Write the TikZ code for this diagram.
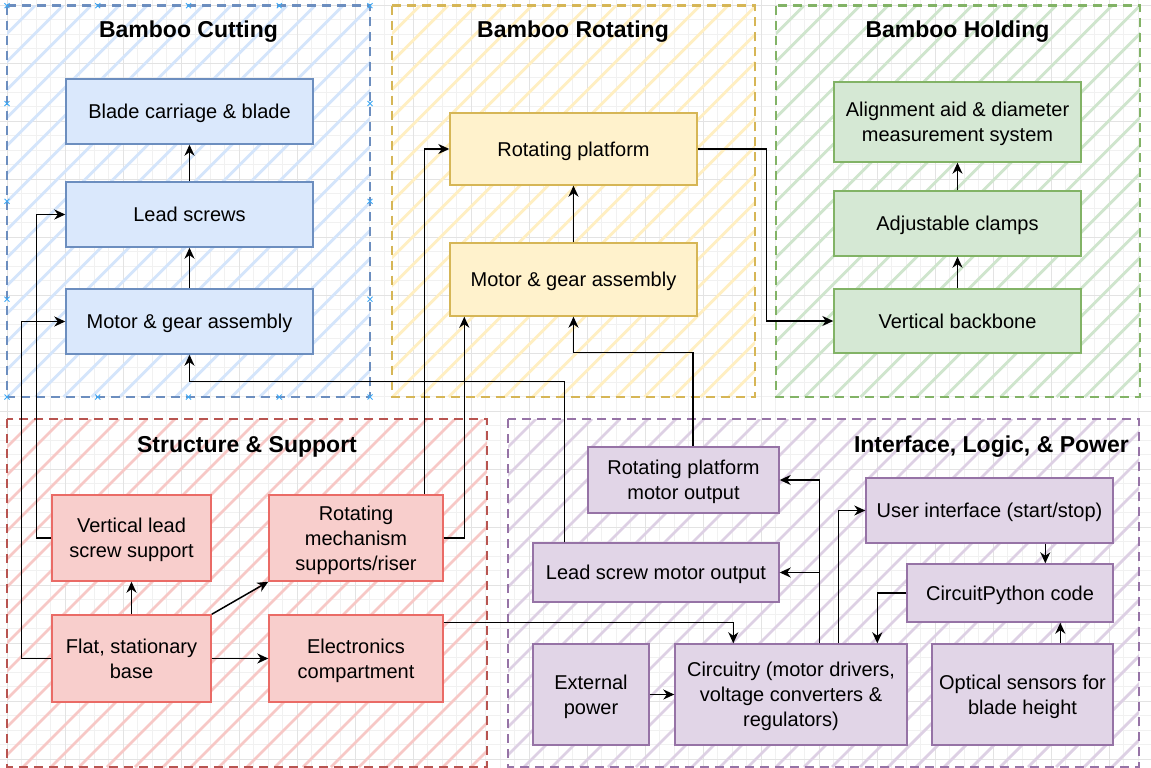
\documentclass[tikz,border=0pt]{standalone}
\usepackage{fontspec}
\setmainfont{Liberation Sans}
\usetikzlibrary{arrows.meta}

\definecolor{bfill}{HTML}{DAE8FC}\definecolor{bline}{HTML}{6C8EBF}
\definecolor{yfill}{HTML}{FFF2CC}\definecolor{yline}{HTML}{D6B656}
\definecolor{gfill}{HTML}{D5E8D4}\definecolor{gline}{HTML}{82B366}
\definecolor{rfill}{HTML}{F8CECC}\definecolor{rline}{HTML}{B85450}\definecolor{rbox}{HTML}{EA6B66}
\definecolor{pfill}{HTML}{E1D5E7}\definecolor{pline}{HTML}{9673A6}
\definecolor{bhatch}{HTML}{D4E5FB}\definecolor{yhatch}{HTML}{FFEFC2}
\definecolor{ghatch}{HTML}{CFE5CD}\definecolor{rhatch}{HTML}{F7C8C6}
\definecolor{phatch}{HTML}{DDD0E4}
\definecolor{gridminor}{HTML}{F1F1F1}\definecolor{gridmajor}{HTML}{E3E3E3}
\definecolor{handle}{HTML}{3DA8F5}

\newcommand\hatchbox[5]{%
  \begin{scope}
    \clip (#1,#2) rectangle (#3,#4);
    \pgfmathsetmacro\hcs{#1+#2}
    \pgfmathsetmacro\hcn{#1+#2+28}
    \pgfmathsetmacro\hce{#3+#4}
    \foreach \c in {\hcs,\hcn,...,\hce}
      \draw[#5, line width=2.8pt] (\c-#2,#2) -- (\c-#4,#4);
  \end{scope}}

\newcommand\lowr[1]{\raisebox{-2.2pt}[\height][\depth]{\begin{tabular}{@{}c@{}}#1\end{tabular}}}

\begin{document}
\begin{tikzpicture}[x=1pt,y=-1pt,
  box/.style={draw, rectangle, inner sep=0pt, line width=1.4pt,
    font=\fontsize{20}{25}\selectfont, align=center},
  bbox/.style={box, fill=bfill, draw=bline},
  ybox/.style={box, fill=yfill, draw=yline},
  gbox/.style={box, fill=gfill, draw=gline},
  rbx/.style={box, fill=rfill, draw=rbox},
  pbox/.style={box, fill=pfill, draw=pline},
  arr/.style={draw=black, line width=1.5pt, -{Stealth[length=11pt,width=10pt,inset=3.5pt]}},
  grp/.style={line width=2.7pt, dash pattern=on 9pt off 6pt},
  ttl/.style={font=\fontsize{23}{28}\selectfont\bfseries, inner sep=0pt},
  hmark/.style={draw=handle, line width=0.8pt}
]
\useasboundingbox (0,0) rectangle (1151,768);
\fill[white] (0,0) rectangle (1151,768);

% grid
\foreach \x in {-7.2,7.3,...,1160} \draw[gridminor, line width=0.9pt] (\x,0) -- (\x,768);
\foreach \y in {-9.2,5.3,...,775} \draw[gridminor, line width=0.9pt] (0,\y) -- (1151,\y);
\foreach \x in {7.3,65.3,...,1160} \draw[gridmajor, line width=0.9pt] (\x,0) -- (\x,768);
\foreach \y in {5.3,63.3,...,775} \draw[gridmajor, line width=0.9pt] (0,\y) -- (1151,\y);

% hatching
\hatchbox{7}{5.7}{370}{397}{bhatch}
\hatchbox{392}{5.7}{755}{397}{yhatch}
\hatchbox{776}{5.7}{1140}{397}{ghatch}
\hatchbox{7}{419}{487}{767}{rhatch}
\hatchbox{508}{419}{1139}{767}{phatch}

% group borders
\draw[grp, bline] (7,5.7) rectangle (370,397);
\draw[grp, yline] (392,5.7) rectangle (755,397);
\draw[grp, gline] (776,5.7) rectangle (1140,397);
\draw[grp, rline] (7,419) rectangle (487,767);
\draw[grp, pline] (508,419) rectangle (1139,767);

% selection handles on the cutting group
\foreach \x in {7,97.75,188.5,279.25,370} {
  \foreach \y in {5.7,397} {
    \draw[hmark] (\x-2.5,\y-2.5) -- (\x+2.5,\y+2.5) (\x-2.5,\y+2.5) -- (\x+2.5,\y-2.5);
  }
}
\foreach \y in {103.5,201.3,299.2} {
  \foreach \x in {7,370} {
    \draw[hmark] (\x-2.5,\y-2.5) -- (\x+2.5,\y+2.5) (\x-2.5,\y+2.5) -- (\x+2.5,\y-2.5);
  }
}

% titles
\node[ttl, anchor=base] (t1) at (188.5,38) {Bamboo Cutting};
\node[ttl, anchor=base] (t2) at (573,38) {Bamboo Rotating};
\node[ttl, anchor=base] (t3) at (957.5,38) {Bamboo Holding};
\node[ttl, anchor=base] (t4) at (247,452.5) {Structure \& Support};
\node[ttl, anchor=base east] (t5) at (1129,452) {Interface, Logic, \& Power};

% boxes
\node[bbox, minimum width=247pt, minimum height=65pt] (blade) at (189.5,111.5) {\lowr{Blade carriage \& blade}};
\node[bbox, minimum width=247pt, minimum height=65pt] (lead) at (189.5,214.5) {\lowr{Lead screws}};
\node[bbox, minimum width=247pt, minimum height=65pt] (motorc) at (189.5,321.5) {\lowr{Motor \& gear assembly}};

\node[ybox, minimum width=247pt, minimum height=72pt] (platform) at (573.5,149) {\lowr{Rotating platform}};
\node[ybox, minimum width=247pt, minimum height=73pt] (motorr) at (573.5,279.5) {\lowr{Motor \& gear assembly}};

\node[gbox, minimum width=247pt, minimum height=80pt] (align) at (957.5,122) {\lowr{Alignment aid \& diameter\\measurement system}};
\node[gbox, minimum width=247pt, minimum height=65pt] (clamps) at (957.5,223.5) {\lowr{Adjustable clamps}};
\node[gbox, minimum width=247pt, minimum height=64pt] (backbone) at (957.5,321) {\lowr{Vertical backbone}};

\node[rbx, minimum width=159pt, minimum height=86pt] (vlss) at (131.5,538) {\lowr{Vertical lead\\screw support}};
\node[rbx, minimum width=174pt, minimum height=86pt] (rms) at (356,538) {\lowr{Rotating\\mechanism\\supports/riser}};
\node[rbx, minimum width=159pt, minimum height=87pt] (base) at (131.5,658.5) {\lowr{Flat, stationary\\base}};
\node[rbx, minimum width=174pt, minimum height=87pt] (ec) at (356,658.5) {\lowr{Electronics\\compartment}};

\node[pbox, minimum width=191pt, minimum height=66pt] (rpmo) at (683.5,480) {\lowr{Rotating platform\\motor output}};
\node[pbox, minimum width=246pt, minimum height=59pt] (lsmo) at (656,572.5) {\lowr{Lead screw motor output}};
\node[pbox, minimum width=247pt, minimum height=65pt] (ui) at (989.5,510.5) {\lowr{User interface (start/stop)}};
\node[pbox, minimum width=206pt, minimum height=58pt] (cp) at (1010,593) {\lowr{CircuitPython code}};
\node[pbox, minimum width=116pt, minimum height=101pt] (ext) at (591,694.5) {\lowr{External\\power}};
\node[pbox, minimum width=232pt, minimum height=101pt] (circ) at (791,694.5) {\lowr{Circuitry (motor drivers,\\voltage converters \&\\regulators)}};
\node[pbox, minimum width=181pt, minimum height=101pt] (opt) at (1022.5,694.5) {\lowr{Optical sensors for\\blade height}};

% connectors
\draw[arr] (lead.north) -- (blade.south);
\draw[arr] (motorc.north) -- (lead.south);
\draw[arr] (motorr.north) -- (platform.south);
\draw[arr] (clamps.north) -- (align.south);
\draw[arr] (backbone.north) -- (clamps.south);
\draw[arr] (platform.east) -- ++(69,0) |- (backbone.west);

\draw[arr] (base.north) -- (vlss.south);
\draw[arr] (base.north east) -- (rms.south west);
\draw[arr] (base.east) -- (ec.west);
\draw[arr] (base.west) -- ++(-30,0) |- (motorc.west);
\draw[arr] (vlss.west) -- ++(-15,0) |- (lead.west);
\draw[arr] ([xshift=-19pt]rms.north east) |- (platform.west);
\draw[arr] (rms.east) -| ([xshift=15pt]motorr.south west);

\draw[arr] ([xshift=9.5pt]rpmo.north) -- ++(0,-94) -| (motorr.south);
\draw[arr] ([xshift=32pt]lsmo.north west) -- ++(0,-161) -| (motorc.south);
\draw[arr] ([yshift=-8pt]ec.north east) -| ([xshift=59pt]circ.north west);
\draw[arr] ([xshift=145pt]circ.north west) |- (rpmo.east);
\draw[arr] ([xshift=145pt]circ.north west) |- (lsmo.east);
\draw[arr] ([xshift=164pt]circ.north west) |- (ui.west);
\coordinate (uib) at ([xshift=180pt]ui.south west);
\draw[arr] (uib) -- (uib |- cp.north);
\draw[arr] (cp.west) -| ([xshift=203pt]circ.north west);
\coordinate (optt) at ([xshift=129pt]opt.north west);
\draw[arr] (optt) -- (optt |- cp.south);
\draw[arr] (ext.east) -- (circ.west);
\end{tikzpicture}
\end{document}
